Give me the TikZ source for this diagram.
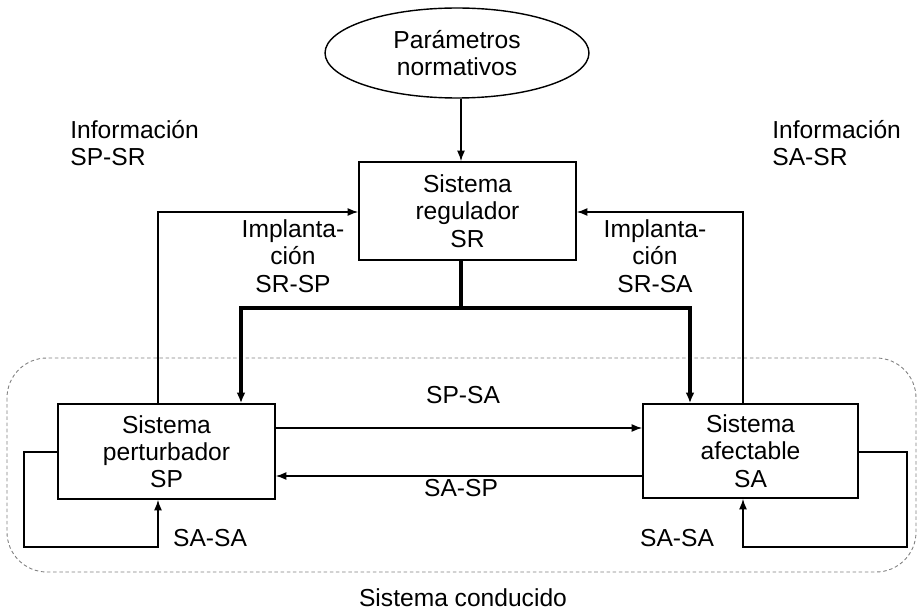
\documentclass[tikz,border=0pt]{standalone}
\usepackage{fontspec}
\setmainfont{Liberation Sans}
\usetikzlibrary{arrows.meta,shapes.geometric}
\begin{document}
\begin{tikzpicture}[x=0.02cm,y=-0.02cm,
  every node/.style={font=\fontsize{14}{15.5}\selectfont, inner sep=0pt},
  sysbox/.style={draw, line width=0.9pt, align=center, minimum width=4.34cm},
  lbl/.style={align=center},
  conn/.style={line width=0.8pt, -{Latex[length=6pt,width=4.5pt]}},
  heavy/.style={line width=2pt, line join=miter, -{Latex[length=6pt,width=5pt]}},
  dashbox/.style={gray, line width=0.5pt, dash pattern=on 2pt off 1.5pt, rounded corners=0.8cm}]
\useasboundingbox (0,0) rectangle (917,611);

% enclosing region of the driven system
\draw[dashbox] (7,358) rectangle (916,572);

% main blocks
\node[draw, ellipse, line width=0.8pt, minimum width=5.28cm, minimum height=1.8cm, align=center]
  (pn) at (457,53) {Parámetros\\normativos};
\node[sysbox, minimum height=1.96cm] (sr) at (467.5,211) {Sistema\\regulador\\SR};
\node[sysbox, minimum height=1.9cm] (sp) at (166.5,451.5) {Sistema\\perturbador\\SP};
\node[sysbox, minimum width=4.3cm, minimum height=1.88cm] (sa) at (750.5,451) {Sistema\\afectable\\SA};

% routing points
\coordinate (j)   at (461,308);
\coordinate (tl)  at (241,308);
\coordinate (tr)  at (690,308);
\coordinate (ilp) at (158,212);
\coordinate (ila) at (743,212);
\coordinate (ya)  at (0,428);
\coordinate (yb)  at (0,476);
\coordinate (yl)  at (0,452);
\coordinate (lp)  at (24,547);
\coordinate (la)  at (907,547);

% normative parameters into the regulator
\draw[conn] (j |- pn.south) -- (j |- sr.north);

% implementation from the regulator
\draw[heavy] (j |- sr.south) -- (j) -- (tl) -- (tl |- sp.north);
\draw[heavy] (j) -- (tr) -- (tr |- sa.north);

% information back to the regulator
\draw[conn] (ilp |- sp.north) -- (ilp) -- (ilp -| sr.west);
\draw[conn] (ila |- sa.north) -- (ila) -- (ila -| sr.east);

% exchanges between SP and SA
\draw[conn] (sp.east |- ya) -- (sa.west |- ya);
\draw[conn] (sa.west |- yb) -- (sp.east |- yb);

% self loops
\draw[conn] (sp.west |- yl) -| (lp) -| (ilp |- sp.south);
\draw[conn] (sa.east |- yl) -| (la) -| (ila |- sa.south);

% labels
\node[align=left, anchor=west] (infl) at (70,143) {Información\\SP-SR};
\node[align=left, anchor=west] (infr) at (772,143) {Información\\SA-SR};
\node[lbl] (impl) at (293,256) {Implanta-\\ción\\SR-SP};
\node[lbl] (impr) at (655,256) {Implanta-\\ción\\SR-SA};
\node[lbl] (pssa) at (463,395) {SP-SA};
\node[lbl] (sasp) at (461,488) {SA-SP};
\node[lbl] (ssl) at (210,538) {SA-SA};
\node[lbl] (ssr) at (677,538) {SA-SA};
\node[lbl] (cond) at (463,598) {Sistema conducido};
\end{tikzpicture}
\end{document}
